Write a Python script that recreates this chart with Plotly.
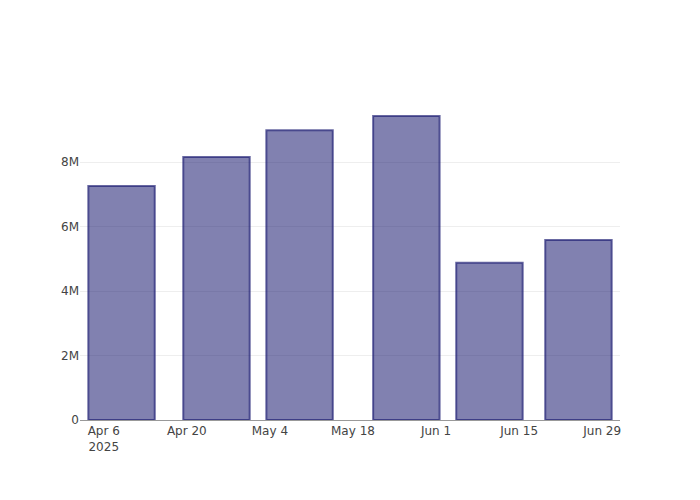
import plotly.graph_objects as go

dates = ["2025-04-09", "2025-04-25", "2025-05-09", "2025-05-27", "2025-06-10", "2025-06-25"]
values = [7.26e6, 8.16e6, 8.99e6, 9.43e6, 4.88e6, 5.58e6]

fig = go.Figure(
    go.Bar(
        x=dates,
        y=values,
        marker=dict(
            color="rgba(25,25,112,0.55)",
            line=dict(color="rgba(25,25,112,0.65)", width=2),
        ),
    )
)

fig.update_layout(
    template="plotly_white",
    width=700,
    height=500,
    font=dict(family="DejaVu Sans, Open Sans, sans-serif", size=12, color="#444"),
    showlegend=False,
    margin=dict(l=72, r=88, t=92, b=88),
)
fig.update_xaxes(
    type="date",
    showline=True,
    linecolor="#999",
    showgrid=False,
    dtick=14 * 86400000,
    tick0="2025-04-06",
    tickformat="%b %-d\n%Y",
)
fig.update_yaxes(
    showgrid=True,
    gridcolor="#eee",
    zeroline=False,
    dtick=2e6,
    tickformat="~s",
)

fig.write_html("out.html")
